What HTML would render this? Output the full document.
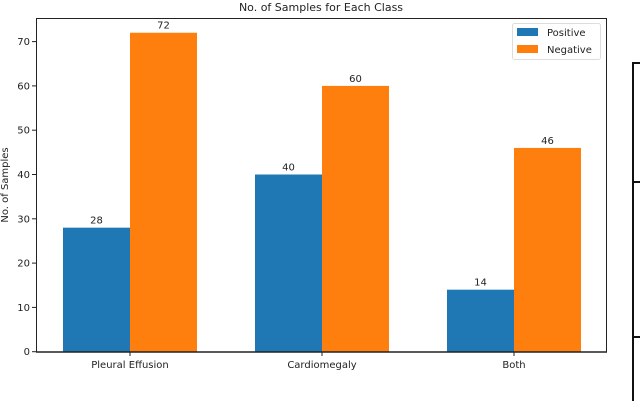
<!DOCTYPE html>
<html><head><meta charset="utf-8"><style>
html,body{margin:0;padding:0;background:#fff;width:640px;height:401px;overflow:hidden}
text{font-family:"DejaVu Sans","Liberation Sans",sans-serif}
</style></head><body>
<svg id="chart" width="640" height="401" xmlns="http://www.w3.org/2000/svg">
<text x="321" y="11" font-size="11" text-anchor="middle" fill="#222">No. of Samples for Each Class</text>
<g id="bars"></g>
<g id="yaxis"></g>
<g id="xaxis"></g>
<rect x="36.5" y="18.5" width="570" height="333.5" fill="none" stroke="#222" stroke-width="1"/>
<line x1="36" y1="352" x2="607" y2="352" stroke="#222" stroke-width="1.5"/>
<text transform="translate(8,185) rotate(-90)" font-size="10" text-anchor="middle" fill="#222">No. of Samples</text>
<g>
<rect x="512.5" y="23.5" width="88" height="36" rx="2" fill="#fff" stroke="#ddd"/>
<rect x="517" y="28" width="21" height="8" fill="#1f77b4"/>
<text x="547" y="36" font-size="10" fill="#222">Positive</text>
<rect x="517" y="45" width="21" height="8" fill="#ff7f0e"/>
<text x="547" y="53" font-size="10" fill="#222">Negative</text>
</g>
<g stroke="#111" stroke-width="2" fill="none">
<polyline points="640,63 633,63 633,401"/>
<line x1="633" y1="182" x2="640" y2="182"/>
<line x1="633" y1="337" x2="640" y2="337"/>
</g>
</svg>
<script>
const categories = ["Pleural Effusion","Cardiomegaly","Both"];
const positiveValues = [28,40,14];
const negativeValues = [72,60,46];
const yTicks = [0,10,20,30,40,50,60,70];
const NS="http://www.w3.org/2000/svg";
const y0=351.7, pxPerUnit=4.43;
function yScale(v){return y0-v*pxPerUnit;}
function xCenter(i){return 130+i*192;}
const barW=67;
function mk(tag,attrs,parent,txt){const e=document.createElementNS(NS,tag);for(const k in attrs)e.setAttribute(k,attrs[k]);if(txt!==undefined)e.textContent=txt;parent.appendChild(e);return e;}
const bars=document.getElementById('bars'), ya=document.getElementById('yaxis'), xa=document.getElementById('xaxis');
categories.forEach((c,i)=>{
  const cx=xCenter(i);
  [[positiveValues,'#1f77b4',-1,'positive'],[negativeValues,'#ff7f0e',0,'negative']].forEach(([arr,col,off,nm])=>{
    const v=arr[i], x=cx+off*barW, yt=yScale(v);
    const r=mk('rect',{x:x,y:yt,width:barW,height:y0-yt,fill:col},bars);
    
    
    const t=mk('text',{x:x+barW/2,y:yt-4,'font-size':10,'text-anchor':'middle',fill:'#222'},bars,String(v));
    
    
  });
  const tk=mk('line',{x1:cx,x2:cx,y1:352,y2:356,stroke:'#222'},xa);
  
  
  const lb=mk('text',{x:cx,y:368,'font-size':10,'text-anchor':'middle',fill:'#222'},xa,c);
  
  
});
yTicks.forEach(v=>{
  const y=yScale(v);
  const tk=mk('line',{x1:32,x2:36,y1:y,y2:y,stroke:'#222'},ya);
  
  
  const lb=mk('text',{x:30,y:y+3.5,'font-size':10,'text-anchor':'end',fill:'#222'},ya,String(v));
  
  
});
</script>
</body></html>
